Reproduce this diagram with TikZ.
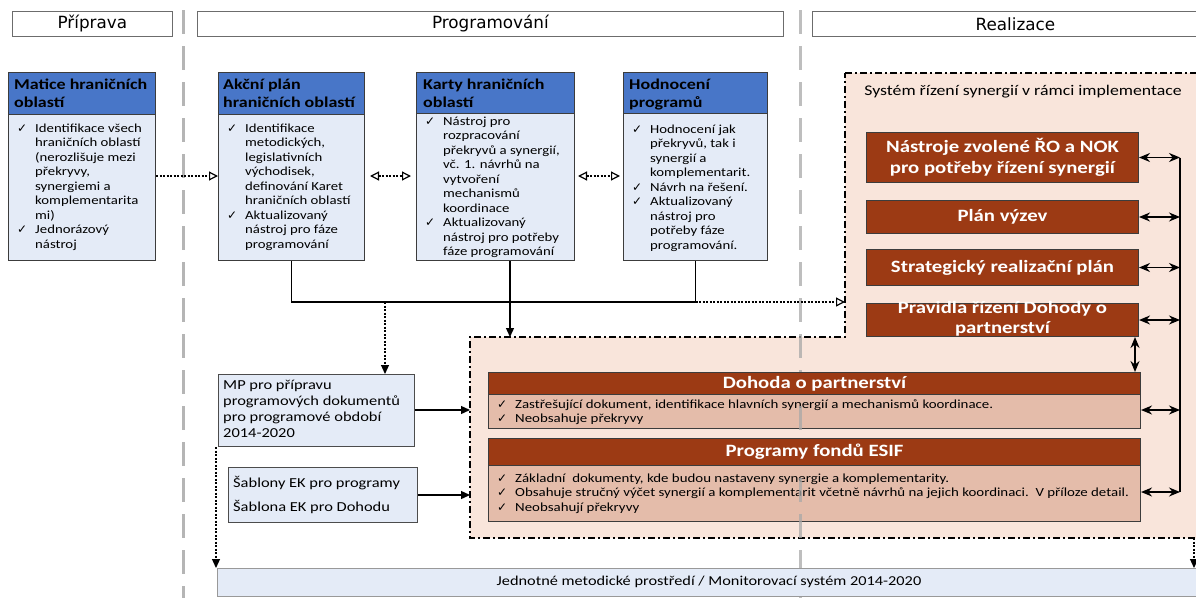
\documentclass[tikz,border=0pt]{standalone}
\usepackage{fontspec}
\setmainfont{Carlito}[FakeStretch=1.2]
\newfontfamily\symf{DejaVu Sans}
\newfontfamily\phasef{DejaVu Sans}
\usetikzlibrary{arrows.meta}
\definecolor{hblue}{RGB}{72,118,200}
\definecolor{lblue}{RGB}{228,235,247}
\definecolor{brownh}{RGB}{156,58,20}
\definecolor{lbrown}{RGB}{228,188,170}
\definecolor{pinkr}{RGB}{249,229,219}
\definecolor{grayl}{RGB}{168,168,168}
\definecolor{bord}{RGB}{60,60,60}
\newcommand\ck{\makebox[18pt][l]{\symf\fontsize{12}{12}\selectfont ✓}}
\newcommand\ind{\makebox[18pt]{}}
\begin{document}
\begin{tikzpicture}[x=1pt,y=-1pt,
  phase/.style={draw=gray!85!black, fill=white, line width=0.8pt, minimum height=25pt, inner sep=0, anchor=north west, font=\phasef\fontsize{16.8}{18}\selectfont},
  bluebody/.style={draw=bord, fill=lblue, line width=1pt, anchor=north west, inner sep=0},
  bluehead/.style={draw=bord, fill=hblue, line width=1pt, anchor=north west, inner sep=0},
  headtxt/.style={anchor=north west, inner sep=0, align=left, font=\bfseries\fontsize{15}{18}\selectfont},
  bodytxt/.style={anchor=north west, inner sep=0, align=left, font=\fontsize{12.3}{14.5}\selectfont},
  brownbox/.style={draw=bord, fill=brownh, line width=1pt, anchor=north west, inner sep=0},
  browntxt/.style={text=white, align=center, inner sep=0, font=\bfseries\fontsize{17.3}{20.5}\selectfont},
  lbody/.style={draw=bord, fill=lbrown, line width=1pt, anchor=north west, inner sep=0},
  smalltxt/.style={anchor=north west, inner sep=0, align=left, font=\fontsize{12.4}{14.5}\selectfont},
  greybox/.style={draw=gray!60!black, fill=lblue, line width=1pt, anchor=north west, inner sep=0},
  conn/.style={line width=1.3pt},
  solidarr/.style={line width=1.3pt, -{Triangle[length=9pt,width=8pt]}},
  dotopen/.style={line width=1.2pt, dash pattern=on 2pt off 1.5pt, -{Triangle[open,length=9pt,width=9pt]}},
  dotopen2/.style={line width=1.2pt, dash pattern=on 2pt off 1.5pt, {Triangle[open,length=9pt,width=9pt]}-{Triangle[open,length=9pt,width=9pt]}},
  dotfill/.style={line width=1.2pt, dash pattern=on 2pt off 1.5pt, -{Triangle[length=9pt,width=8pt]}},
  dbl/.style={line width=1.4pt, {Stealth[length=11pt,width=9pt]}-{Stealth[length=11pt,width=9pt]}},
  gline/.style={draw=grayl, line width=3pt, dash pattern=on 24pt off 12pt}
]
\useasboundingbox (0,0) rectangle (1196,597);
\begin{scope}
\clip (0,0) rectangle (1196,597);
% named reference coordinates
\coordinate (y176) at (0,176);
\coordinate (hl) at (0,302);
\coordinate (kx) at (510,0);
\coordinate (dx) at (385,0);
\coordinate (regL) at (470,0);
\coordinate (regLT) at (845,0);
\coordinate (regtop) at (0,337);
\coordinate (regbot) at (0,538);
\coordinate (rx) at (1180,0);
\coordinate (vx) at (1135,0);
\coordinate (ex) at (1194,0);
\coordinate (y410) at (0,410);
\coordinate (y495) at (0,495);
\coordinate (y492) at (0,492);
\coordinate (lx) at (216,0);

% region
\draw[fill=pinkr, line width=1.3pt, dash pattern=on 7pt off 3pt on 2pt off 3pt]
  (845,73) -- (1215,73) -- (1215,538) -- (470,538) -- (470,337) -- (845,337) -- cycle;
\node[inner sep=0, font=\fontsize{14.8}{16}\selectfont] (regtitle) at (1023,92) {Systém řízení synergií v rámci implementace};

% phase headers
\node[phase, minimum width=160pt] (pri) at (12,11) {Příprava};
\node[phase, minimum width=586pt] (prog) at (197,11) {Programování};
\node[phase, minimum width=406pt] (real) at (812,11) {Realizace};

% blue boxes
\node[bluebody, minimum width=147pt, minimum height=188pt] (matice) at (8,72) {};
\node[bluehead, minimum width=147pt, minimum height=42pt] (maticeH) at (8,72) {};
\node[headtxt] (maticeHT) at (14,79) {Matice hraničních\\oblastí};
\node[bodytxt] (maticeT) at (17,123.5) {\ck Identifikace všech\\\ind hraničních oblastí\\\ind (nerozlišuje mezi\\\ind překryvy,\\\ind synergiemi a\\\ind komplementarita\\\ind mi)\\\ck Jednorázový\\\ind nástroj};

\node[bluebody, minimum width=146pt, minimum height=188pt] (akcni) at (218,72) {};
\node[bluehead, minimum width=146pt, minimum height=42pt] (akcniH) at (218,72) {};
\node[headtxt] (akcniHT) at (223,79) {Akční plán\\hraničních oblastí};
\node[bodytxt] (akcniT) at (227,123.5) {\ck Identifikace\\\ind metodických,\\\ind legislativních\\\ind východisek,\\\ind definování Karet\\\ind hraničních oblastí\\\ck Aktualizovaný\\\ind nástroj pro fáze\\\ind programování};

\node[bluebody, minimum width=158pt, minimum height=188pt] (karty) at (416,72) {};
\node[bluehead, minimum width=158pt, minimum height=41pt] (kartyH) at (416,72) {};
\node[headtxt] (kartyHT) at (423,79) {Karty hraničních\\oblastí};
\node[bodytxt] (kartyT) at (425,116.5) {\ck Nástroj pro\\\ind rozpracování\\\ind překryvů a synergií,\\\ind vč. 1. návrhů na\\\ind vytvoření\\\ind mechanismů\\\ind koordinace\\\ck Aktualizovaný\\\ind nástroj pro potřeby\\\ind fáze programování};

\node[bluebody, minimum width=144pt, minimum height=188pt] (hodn) at (623,72) {};
\node[bluehead, minimum width=144pt, minimum height=41pt] (hodnH) at (623,72) {};
\node[headtxt] (hodnHT) at (629,79) {Hodnocení\\programů};
\node[bodytxt] (hodnT) at (632,124.5) {\ck Hodnocení jak\\\ind překryvů, tak i\\\ind synergií a\\\ind komplementarit.\\\ck Návrh na řešení.\\\ck Aktualizovaný\\\ind nástroj pro\\\ind potřeby fáze\\\ind programování.};

% MP and templates
\node[greybox, minimum width=196pt, minimum height=72pt] (mp) at (218,374) {};
\node[anchor=north west, inner sep=0, align=left, font=\fontsize{13.7}{16}\selectfont] (mpT) at (223,380) {MP pro přípravu\\programových dokumentů\\pro programové období\\2014-2020};
\node[greybox, minimum width=189pt, minimum height=55pt] (sab) at (228,467) {};
\node[anchor=north west, inner sep=0, align=left, font=\fontsize{13.7}{24}\selectfont] (sabT) at (233,476) {Šablony EK pro programy\\Šablona EK pro Dohodu};

% Dohoda / Programy bodies
\node[lbody, minimum width=652pt, minimum height=34pt] (dohB) at (488,394) {};
\node[lbody, minimum width=652pt, minimum height=56pt] (progB) at (488,465) {};
\node[smalltxt] (dohT) at (497,399.5) {\ck Zastřešující dokument, identifikace hlavních synergií a mechanismů koordinace.\\\ck Neobsahuje překryvy};
\node[smalltxt] (progT) at (497,473.5) {\ck Základní\ \ dokumenty, kde budou nastaveny synergie a komplementarity.\\\ck Obsahuje stručný výčet synergií a komplementarit včetně návrhů na jejich koordinaci.\ \ V příloze detail.\\\ck Neobsahují překryvy};

% grey phase separators
\draw[gline, draw opacity=0.85] (183,10) -- (183,600);
\draw[gline, draw opacity=0.75] (800,10) -- (800,600);

% brown boxes
\node[brownbox, minimum width=272pt, minimum height=50pt] (nas) at (866,132) {};
\node[browntxt] at (nas.center) {Nástroje zvolené ŘO a NOK\\pro potřeby řízení synergií};
\node[brownbox, minimum width=272pt, minimum height=33pt] (plan) at (866,200) {};
\node[browntxt] at (plan.center) {Plán výzev};
\node[brownbox, minimum width=272pt, minimum height=36pt] (strat) at (866,249) {};
\node[browntxt] at (strat.center) {Strategický realizační plán};
\node[brownbox, minimum width=272pt, minimum height=33pt] (prav) at (866,303) {};
\node[browntxt] at ([yshift=1pt]prav.center) {Pravidla řízení Dohody o\\partnerství};
\node[brownbox, minimum width=652pt, minimum height=22pt] (dohH) at (488,372) {};
\node[browntxt] at (dohH.center) {Dohoda o partnerství};
\node[brownbox, minimum width=652pt, minimum height=27pt] (progH) at (488,438) {};
\node[browntxt] at (progH.center) {Programy fondů ESIF};

% bottom box
\node[greybox, draw=gray!80, minimum width=995pt, minimum height=28pt] (jmp) at (217,568) {};
\node[inner sep=0, font=\fontsize{13.6}{15}\selectfont] at (709,582) {Jednotné metodické prostředí / Monitorovací systém 2014-2020};

% connectors
\draw[dotopen] (matice.east |- y176) -- (akcni.west |- y176);
\draw[dotopen2, shorten <=5pt, shorten >=5pt] (akcni.east |- y176) -- (karty.west |- y176);
\draw[dotopen2, shorten <=3pt, shorten >=3pt] (karty.east |- y176) -- (hodn.west |- y176);
\draw[conn] (akcni.south) -- (akcni.south |- hl) -- (hodn.south |- hl) -- (hodn.south);
\draw[solidarr] (kx |- karty.south) -- (kx |- regtop);
\draw[dotfill] (dx |- hl) -- (dx |- mp.north);
\draw[dotopen] (hodn.south |- hl) -- (regLT |- hl);
\draw[solidarr] (mp.east |- y410) -- (regL |- y410);
\draw[solidarr] (sab.east |- y495) -- (regL |- y495);
\draw[dotfill] (lx |- mp.south) -- (lx |- jmp.north);
\draw[dotfill] (ex |- regbot) -- (ex |- jmp.north);
% right side
\draw[conn] (rx |- nas.east) -- (rx |- y492);
\draw[dbl] (nas.east) -- (rx |- nas.east);
\draw[dbl] (plan.east) -- (rx |- plan.east);
\draw[dbl] (strat.east) -- (rx |- strat.east);
\draw[dbl] (prav.east) -- (rx |- prav.east);
\draw[dbl] (dohB.east |- y410) -- (rx |- y410);
\draw[dbl] (progB.east |- y492) -- (rx |- y492);
\draw[dbl] (vx |- prav.south) -- (vx |- dohH.north);
\end{scope}
\end{tikzpicture}
\end{document}
